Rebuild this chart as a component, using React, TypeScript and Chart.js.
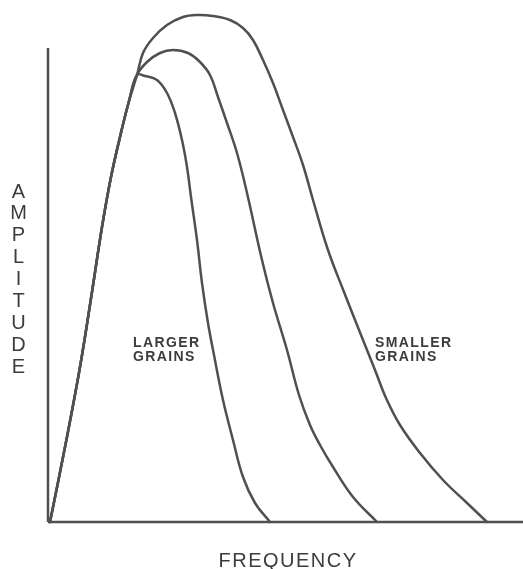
import React, { useEffect, useRef } from "react";
import { Chart, registerables } from "chart.js";

Chart.register(...registerables);

// Shared rising flank (all three spectra start together)
const riseFreq = [0.4, 3.6, 6.4, 8.8, 10.8, 12.6, 14.4, 16.1, 17.8];
const riseAmp = [0, 16, 31, 46, 59, 69, 77, 83.8, 89.4];

// Larger grains (narrowest spectrum)
const largerFreq = [19.4, 21.8, 23.8, 25.4, 26.8, 27.8, 28.6, 29.8, 30.8, 32, 33.2, 35, 37, 39, 41.4, 44.4];
const largerAmp = [89.2, 88.4, 85.8, 81.8, 76.4, 71, 65, 56.4, 47.8, 39.8, 33.4, 24.4, 16.4, 9, 3.8, 0];

// Intermediate grains
const middleFreq = [19.8, 22.4, 25, 28, 30.4, 32.4, 34, 35.8, 37.8, 39.8, 42.8, 45, 47.8, 50.2, 52.4, 54.4, 57, 61, 65.8];
const middleAmp = [92, 93.8, 94.4, 93.8, 92, 89.4, 85, 79.8, 73.8, 65.8, 52.4, 43.8, 34.4, 25.4, 19.4, 15.4, 11, 5, 0];

// Smaller grains (widest spectrum)
const smallerFreq = [19, 21, 23.8, 27, 29.8, 33, 36.4, 39, 41, 43, 45, 47, 49, 51, 53, 56, 59.2, 62.6, 65.4, 67.6, 70.4, 74.4, 79, 83.8, 87.8];
const smallerAmp = [93.8, 96.8, 99.4, 101, 101.4, 101.2, 100.4, 98.8, 96.4, 92.4, 87.8, 82.4, 77, 71.4, 64.4, 54.4, 46, 37.4, 30.4, 24.8, 19.4, 13.8, 8.4, 3.8, 0];

// Axis lines
const yAxisFreq = [0, 0];
const yAxisAmp = [0, 94.8];
const xAxisFreq = [0, 95];
const xAxisAmp = [0, 0];

// Texts
const amplitudeTitle = "AMPLITUDE";
const frequencyTitle = "FREQUENCY";
const curveLabels = [
  ["LARGER", "GRAINS"],
  ["SMALLER", "GRAINS"],
];
const curveLabelFreq = [17, 65.4];
const curveLabelAmp = [35, 35];

const INK = "#505050";
const TEXT_INK = "#3c3c3c";

export default function App() {
  const ref = useRef<HTMLCanvasElement>(null);

  useEffect(() => {
    const canvas = ref.current;
    if (!canvas) return;
    const toPts = (f: number[], a: number[]) => f.map((x, i) => ({ x, y: a[i] }));
    const curveStyle: any = {
      borderColor: INK,
      borderWidth: 2.5,
      pointRadius: 0,
      fill: false,
      tension: 0.4,
      borderJoinStyle: "round",
      borderCapStyle: "round",
      clip: false,
    };
    const axisStyle: any = {
      borderColor: INK,
      borderWidth: 2.5,
      pointRadius: 0,
      fill: false,
      tension: 0,
      clip: false,
    };
    const datasets: any[] = [
      { label: "Smaller grains", data: toPts([...riseFreq, ...smallerFreq], [...riseAmp, ...smallerAmp]), ...curveStyle },
      { label: "Intermediate", data: toPts([...riseFreq, ...middleFreq], [...riseAmp, ...middleAmp]), ...curveStyle },
      { label: "Larger grains", data: toPts([...riseFreq, ...largerFreq], [...riseAmp, ...largerAmp]), ...curveStyle },
      { label: "y axis", data: toPts(yAxisFreq, yAxisAmp), ...axisStyle },
      { label: "x axis", data: toPts(xAxisFreq, xAxisAmp), ...axisStyle },
    ];

    const textPlugin = {
      id: "texts",
      afterDraw(chart: any) {
        const ctx = chart.ctx as CanvasRenderingContext2D;
        const area = chart.chartArea;
        const xs = chart.scales.x;
        const ys = chart.scales.y;
        ctx.save();
        ctx.fillStyle = TEXT_INK;
        ctx.textBaseline = "alphabetic";

        // Vertical stacked AMPLITUDE
        ctx.font = "20px 'Liberation Sans', Arial, sans-serif";
        ctx.textAlign = "center";
        const letters = amplitudeTitle.split("");
        const pitch = 21.9;
        const firstBaseline = area.top + 185.5;
        letters.forEach((ch, i) => {
          ctx.fillText(ch, 18.5, firstBaseline + i * pitch);
        });

        // FREQUENCY
        ctx.font = "20px 'Liberation Sans', Arial, sans-serif";
        (ctx as any).letterSpacing = "1.5px";
        ctx.textAlign = "center";
        ctx.fillText(frequencyTitle, (area.left + area.right) / 2 + 2.5, area.bottom + 45);

        // Curve labels
        ctx.font = "bold 14px 'Liberation Sans', Arial, sans-serif";
        (ctx as any).letterSpacing = "1.4px";
        ctx.textAlign = "left";
        curveLabels.forEach((lines, k) => {
          const px = xs.getPixelForValue(curveLabelFreq[k]);
          const py = ys.getPixelForValue(curveLabelAmp[k]);
          lines.forEach((t, j) => ctx.fillText(t, px, py + j * 13.5));
        });
        ctx.restore();
      },
    };

    const chart = new Chart(canvas, {
      type: "line",
      data: { datasets },
      options: {
        responsive: false,
        animation: false,
        devicePixelRatio: 1,
        layout: { padding: { left: 48, right: 0, top: 12, bottom: 47 } },
        scales: {
          x: { type: "linear", min: 0, max: 95, display: false },
          y: { type: "linear", min: 0, max: 102, display: false },
        },
        plugins: { legend: { display: false }, tooltip: { enabled: false } },
      } as any,
      plugins: [textPlugin],
    });
    return () => chart.destroy();
  }, []);

  return (
    <div style={{ position: "absolute", left: 0, top: 0, width: 523, height: 569, background: "#fff" }}>
      <canvas ref={ref} width={523} height={569} style={{ display: "block" }} />
    </div>
  );
}
